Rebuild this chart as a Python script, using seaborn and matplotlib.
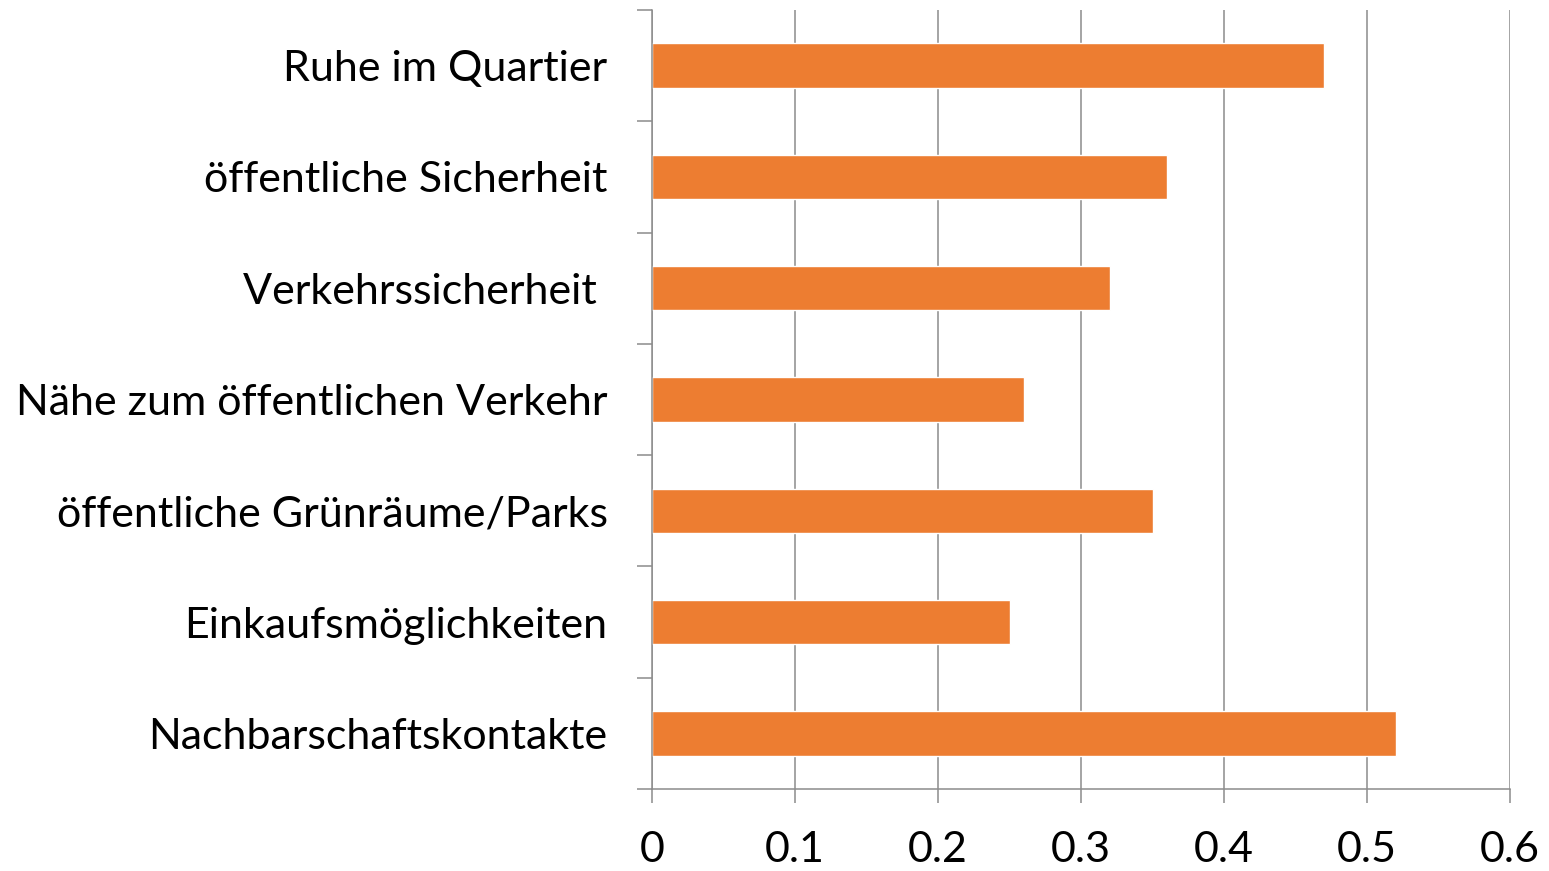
import seaborn as sns
import pandas as pd
import matplotlib.pyplot as plt
from matplotlib.ticker import FixedLocator

categories = ["Ruhe im Quartier", "öffentliche Sicherheit", "Verkehrssicherheit ",
              "Nähe zum öffentlichen Verkehr", "öffentliche Grünräume/Parks",
              "Einkaufsmöglichkeiten", "Nachbarschaftskontakte"]
values = [0.47, 0.36, 0.32, 0.26, 0.35, 0.25, 0.52]
xticks = [0, 0.1, 0.2, 0.3, 0.4, 0.5, 0.6]
xticklabels = ["0", "0.1", "0.2", "0.3", "0.4", "0.5", "0.6"]

sns.set_style("white")
plt.rcParams['font.family'] = ['Lato', 'DejaVu Sans']
plt.rcParams['text.color'] = 'black'
plt.rcParams['xtick.labelcolor'] = 'black'
plt.rcParams['ytick.labelcolor'] = 'black'

data = pd.DataFrame({"cat": categories, "val": values})

fig = plt.figure(figsize=(15.49, 8.71), dpi=100)
ax = fig.add_axes([652/1549, 1-789/871, (1510-652)/1549, (789-10)/871])
sns.barplot(data=data, x="val", y="cat", orient="h", color="#ED7D31",
            saturation=1, width=0.4, ax=ax)

grid_col = "#8c8c8c"
ax.set_xlim(0, 0.6)
ax.set_ylim(6.5, -0.5)
ax.set_xticks(xticks)
ax.set_xticklabels(xticklabels)
ax.xaxis.grid(True, color=grid_col, linewidth=1.1)
ax.set_axisbelow(True)
ax.set(xlabel="", ylabel="")

for s in ["top", "right"]:
    ax.spines[s].set_visible(False)
for s in ["left", "bottom"]:
    ax.spines[s].set_color(grid_col)
    ax.spines[s].set_linewidth(1.1)

# category boundary ticks
ax.yaxis.set_minor_locator(FixedLocator([i - 0.5 for i in range(len(categories) + 1)]))
ax.tick_params(axis="y", which="major", length=0, pad=32, labelsize=31, labelcolor="black")
ax.tick_params(axis="y", which="minor", left=True, length=11, color=grid_col, width=1.1)
ax.tick_params(axis="x", which="major", bottom=True, length=10, color=grid_col,
               width=1.1, pad=20, labelsize=31, labelcolor="black")

plt.savefig("out.png", dpi=100)
